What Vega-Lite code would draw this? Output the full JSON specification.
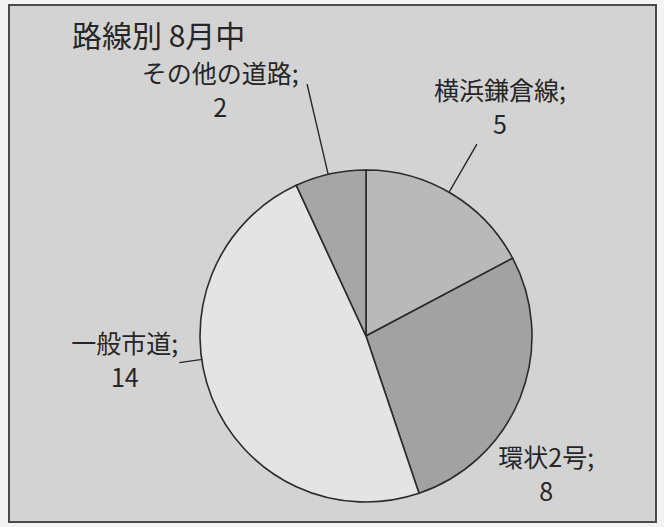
{
  "$schema": "https://vega.github.io/schema/vega-lite/v6.json",
  "width": 647,
  "height": 517,
  "autosize": {"type": "none"},
  "padding": {"left": 9, "top": 5, "right": 8, "bottom": 5},
  "background": "#f3f3f3",
  "config": {
    "view": {"stroke": null},
    "text": {"font": "Noto Sans CJK JP"},
    "title": {"font": "Noto Sans CJK JP"}
  },
  "title": {
    "text": "路線別 8月中",
    "anchor": "start",
    "frame": "group",
    "orient": "top",
    "offset": 0,
    "dx": 63,
    "dy": 49,
    "fontSize": 30,
    "fontWeight": "normal",
    "color": "#262626"
  },
  "data": {
    "values": [
      {"road": "横浜鎌倉線", "n": 5, "k": 1},
      {"road": "環状2号", "n": 8, "k": 2},
      {"road": "一般市道", "n": 14, "k": 3},
      {"road": "その他の道路", "n": 2, "k": 4}
    ]
  },
  "layer": [
    {
      "data": {"values": [{}]},
      "mark": {"type": "rect", "fill": "#d3d3d3", "stroke": "#4a4a4a", "strokeWidth": 2},
      "encoding": {
        "x": {"value": 0},
        "x2": {"value": "width"},
        "y": {"value": 0},
        "y2": {"value": "height"}
      }
    },
    {
      "mark": {"type": "arc", "outerRadius": 166, "stroke": "#2b2b2b", "strokeWidth": 1.6, "xOffset": 33.5, "yOffset": 72.5},
      "encoding": {
        "theta": {"field": "n", "type": "quantitative", "stack": true},
        "order": {"field": "k", "type": "quantitative"},
        "color": {
          "field": "road",
          "type": "nominal",
          "scale": {
            "domain": ["横浜鎌倉線", "環状2号", "一般市道", "その他の道路"],
            "range": ["#b9b9b9", "#a2a2a2", "#e4e4e4", "#a6a6a6"]
          },
          "legend": null
        }
      }
    },
    {
      "transform": [{"calculate": "[datum.road + ';', '' + datum.n]", "as": "label"}],
      "mark": {
        "type": "text",
        "radius": 250,
        "fontSize": 25,
        "lineHeight": 34,
        "color": "#262626",
        "align": "center",
        "baseline": "middle",
        "dx": {"expr": "datum.road === '横浜鎌倉線' ? 38.5 : datum.road === '環状2号' ? -18.5 : datum.road === '一般市道' ? 24.5 : -58.5"},
        "dy": {"expr": "datum.road === '横浜鎌倉線' ? 42.5 : datum.road === '環状2号' ? 102.5 : datum.road === '一般市道' ? -11.5 : 56"}
      },
      "encoding": {
        "theta": {"field": "n", "type": "quantitative", "stack": true},
        "order": {"field": "k", "type": "quantitative"},
        "text": {"field": "label"}
      }
    },
    {
      "data": {"values": [{}]},
      "mark": {"type": "arc", "theta": -0.2304, "theta2": -0.2294, "innerRadius": 166, "outerRadius": 258, "fill": "#2b2b2b", "stroke": "#2b2b2b", "strokeWidth": 1.2, "xOffset": 33.5, "yOffset": 72.5},
      "encoding": {}
    },
    {
      "data": {"values": [{}]},
      "mark": {"type": "arc", "theta": 0.5236, "theta2": 0.5246, "innerRadius": 167, "outerRadius": 221, "fill": "#2b2b2b", "stroke": "#2b2b2b", "strokeWidth": 1.2, "xOffset": 33.5, "yOffset": 72.5},
      "encoding": {}
    },
    {
      "data": {"values": [{}]},
      "mark": {"type": "arc", "theta": 4.57, "theta2": 4.571, "innerRadius": 166, "outerRadius": 188, "fill": "#2b2b2b", "stroke": "#2b2b2b", "strokeWidth": 1.2, "xOffset": 33.5, "yOffset": 72.5},
      "encoding": {}
    }
  ]
}
